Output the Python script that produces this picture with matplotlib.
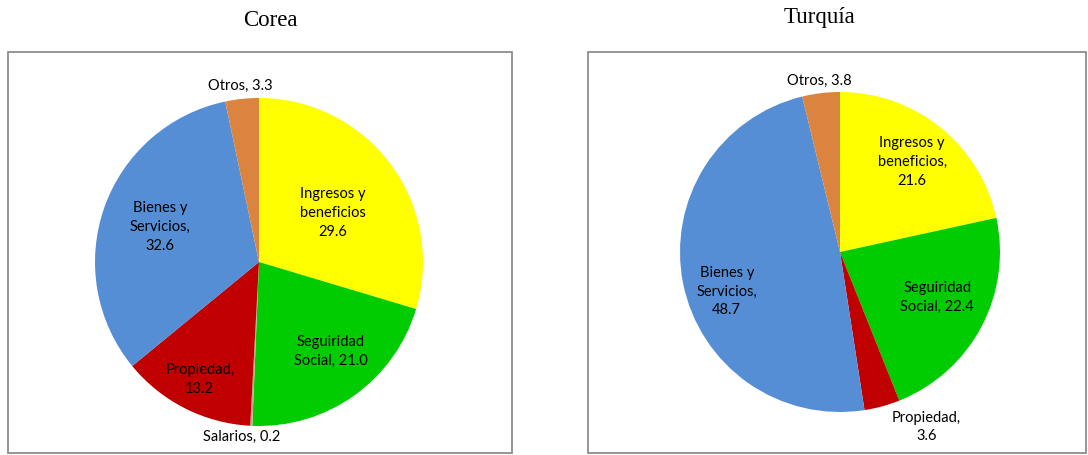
import matplotlib
matplotlib.use("Agg")
import matplotlib.pyplot as plt
from matplotlib.patches import Rectangle
import numpy as np

W, H = 1088, 455

titles = ["Corea", "Turquía"]

korea_labels = ["Ingresos y\nbeneficios\n29.6", "Seguiridad\nSocial, 21.0", "Salarios, 0.2",
                "Propiedad,\n13.2", "Bienes y\nServicios,\n32.6", "Otros, 3.3"]
korea_values = [29.6, 21.0, 0.2, 13.2, 32.6, 3.3]
korea_colors = ["#FFFF00", "#00CC00", "#C8A888", "#C00000", "#558ED5", "#DB8440"]

turkey_labels = ["Ingresos y\nbeneficios,\n21.6", "Seguiridad\nSocial, 22.4",
                 "Propiedad,\n3.6", "Bienes y\nServicios,\n48.7", "Otros, 3.8"]
turkey_values = [21.6, 22.4, 3.6, 48.7, 3.8]
turkey_colors = ["#FFFF00", "#00CC00", "#C00000", "#558ED5", "#DB8440"]

# label placement: (radius factor, angle tweak in degrees)
korea_lpos = [(0.54, -3), (0.70, 3), (1.07, -3), (0.80, 0), (0.64, 0), (1.08, 0)]
turkey_lpos = [(0.72, 0), (0.67, 3), (1.22, 11), (0.75, 8), (1.08, 0)]

fig = plt.figure(figsize=(W / 100, H / 100), dpi=100)

def fx(x):
    return x / W

def fy(y):
    return 1 - y / H

# panel boxes (pixels: left, top, right, bottom)
boxes = [(8, 52, 512, 453), (588, 52, 1086, 453)]
for (l, t, r, b) in boxes:
    fig.patches.append(Rectangle((fx(l), fy(b)), fx(r - l), (b - t) / H,
                                 transform=fig.transFigure, fill=False,
                                 edgecolor="#8c8c8c", linewidth=1.3))

fig.text(fx(270), fy(20), titles[0], ha="center", va="center",
         fontsize=16.5, family="Liberation Serif")
fig.text(fx(820), fy(18), titles[1], ha="center", va="center",
         fontsize=16.5, family="Liberation Serif")

def draw(center, R, values, colors, labels, lpos):
    cx, cy = center
    ax = fig.add_axes([fx(cx - R), fy(cy + R), 2 * R / W, 2 * R / H])
    wedges, _ = ax.pie(values, colors=colors, startangle=90, counterclock=False,
                       radius=1, wedgeprops=dict(linewidth=0))
    ax.set_xlim(-1, 1)
    ax.set_ylim(-1, 1)
    ax.set_aspect("auto")
    ax.axis("off")
    for w, lab, (r, dth) in zip(wedges, labels, lpos):
        mid = np.deg2rad((w.theta1 + w.theta2) / 2 + dth)
        ax.text(r * np.cos(mid), r * np.sin(mid), lab, ha="center", va="center",
                fontsize=10.5, family="Lato", color="#000000", linespacing=1.45,
                clip_on=False)

draw((259, 262), 164, korea_values, korea_colors, korea_labels, korea_lpos)
draw((840, 252), 160, turkey_values, turkey_colors, turkey_labels, turkey_lpos)

fig.savefig("out.png", dpi=100)
